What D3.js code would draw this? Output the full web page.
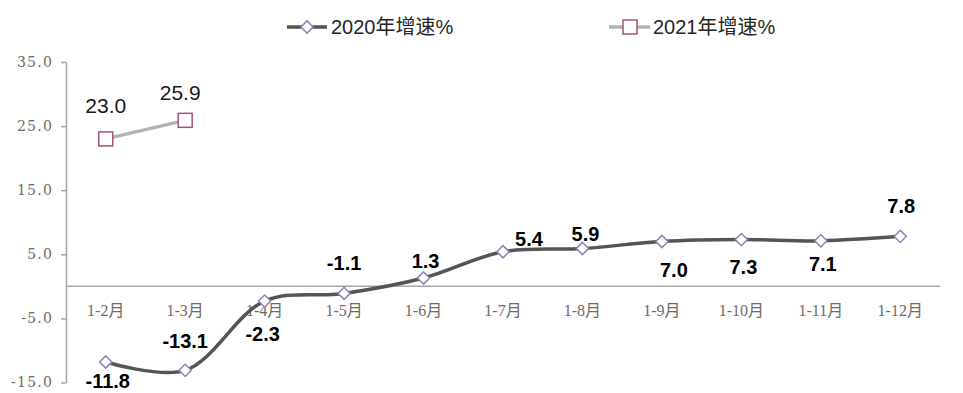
<!DOCTYPE html>
<html>
<head>
<meta charset="utf-8">
<script src="https://cdn.jsdelivr.net/npm/d3@7"></script>
<style>
  body { margin: 0; background: #fff; }
</style>
</head>
<body>
<div id="chart"></div>
<script>
// data
const months = ['1-2月', '1-3月', '1-4月', '1-5月', '1-6月', '1-7月', '1-8月', '1-9月', '1-10月', '1-11月', '1-12月'];
const growth2020 = [-11.8, -13.1, -2.3, -1.1, 1.3, 5.4, 5.9, 7.0, 7.3, 7.1, 7.8];
const growth2021 = [23.0, 25.9];
const yTicks = [35, 25, 15, 5, -5, -15];
const seriesNames = ['2020年增速%', '2021年增速%'];
// label nudges (dx, dy from the marker) as in the original
const labelDx2020 = [2, 0, -2, 0, 2, 26, 3, 12, 2, 2, 1];
const labelDy2020 = [26, -22, 40, -23, -10, -6, -8, 36, 34, 30, -23];
const labelDx2021 = [0, -5];
const labelDy2021 = [-26, -20];

const width = 963;
const height = 393;
const margin = { top: 62, right: 23, bottom: 10, left: 66 };

const fmt = v => d3.format('.1f')(v).replace('\u2212', '-');

const svg = d3.select('#chart')
  .append('svg')
  .attr('width', width)
  .attr('height', height)
  .attr('xmlns', 'http://www.w3.org/2000/svg');

const x = d3.scaleBand()
  .domain(months)
  .range([margin.left, width - margin.right]);

const y = d3.scaleLinear()
  .domain([-15, 35])
  .range([382.5, 62]);

const cx = d => x(d) + x.bandwidth() / 2;

// y axis
const yAxis = d3.axisLeft(y)
  .tickValues(yTicks)
  .tickFormat(fmt)
  .tickSizeInner(5)
  .tickSizeOuter(0)
  .tickPadding(8);

const yg = svg.append('g')
  .attr('class', 'y-axis-container')
  .attr('transform', `translate(${margin.left}, 0)`)
  .call(yAxis);
yg.select('.domain').attr('stroke', '#a6a6a6').attr('stroke-width', 1.5);
yg.selectAll('line').attr('stroke', '#a6a6a6').attr('stroke-width', 1.5);
yg.selectAll('text')
  .attr('font-family', '"DejaVu Serif", "Liberation Serif", serif')
  .attr('font-size', 14)
  .attr('letter-spacing', 1.2)
  .attr('fill', '#6e6a66');

// zero line
svg.append('line')
  .attr('x1', margin.left)
  .attr('x2', width - margin.right)
  .attr('y1', y(0))
  .attr('y2', y(0))
  .attr('stroke', '#a6a6a6')
  .attr('stroke-width', 1.5);

// x labels
svg.append('g')
  .attr('class', 'x-axis-container')
  .selectAll('text')
  .data(months)
  .join('text')
  .attr('x', d => cx(d))
  .attr('y', 316)
  .attr('text-anchor', 'middle')
  .attr('font-family', '"Liberation Serif", "Noto Sans CJK SC", serif')
  .attr('font-size', 16)
  .attr('fill', '#6e6a66')
  .text(d => d);

// 2021 line
const data2021 = growth2021.map((v, i) => ({ m: months[i], v, dx: labelDx2021[i], dy: labelDy2021[i] }));
svg.append('path')
  .datum(data2021)
  .attr('fill', 'none')
  .attr('stroke', '#b3b3b3')
  .attr('stroke-width', 3.5)
  .attr('d', d3.line().x(d => cx(d.m)).y(d => y(d.v)));

// 2020 line
const data2020 = growth2020.map((v, i) => ({ m: months[i], v, dx: labelDx2020[i], dy: labelDy2020[i] }));
svg.append('path')
  .datum(data2020)
  .attr('fill', 'none')
  .attr('stroke', '#555555')
  .attr('stroke-width', 3.5)
  .attr('d', d3.line().curve(d3.curveCatmullRom.alpha(0.5)).x(d => cx(d.m)).y(d => y(d.v)));

// markers
const diamond = d3.symbol().type(d3.symbolDiamond2).size(95);
svg.append('g')
  .selectAll('path')
  .data(data2020)
  .join('path')
  .attr('transform', d => `translate(${cx(d.m)}, ${y(d.v)})`)
  .attr('d', diamond)
  .attr('fill', '#fff')
  .attr('stroke', '#8a84b6')
  .attr('stroke-width', 1.5);

svg.append('g')
  .selectAll('rect')
  .data(data2021)
  .join('rect')
  .attr('x', d => cx(d.m) - 7)
  .attr('y', d => y(d.v) - 7)
  .attr('width', 14)
  .attr('height', 14)
  .attr('fill', '#fff')
  .attr('stroke', '#a4507e')
  .attr('stroke-width', 1.5);

// data labels
svg.append('g')
  .selectAll('text')
  .data(data2020)
  .join('text')
  .attr('x', d => cx(d.m) + d.dx)
  .attr('y', d => y(d.v) + d.dy)
  .attr('text-anchor', 'middle')
  .attr('font-family', '"Liberation Sans", Arial, sans-serif')
  .attr('font-weight', 700)
  .attr('font-size', 20)
  .attr('fill', '#000')
  .text(d => fmt(d.v));

svg.append('g')
  .selectAll('text')
  .data(data2021)
  .join('text')
  .attr('x', d => cx(d.m) + d.dx)
  .attr('y', d => y(d.v) + d.dy)
  .attr('text-anchor', 'middle')
  .attr('font-family', '"Liberation Sans", Arial, sans-serif')
  .attr('font-size', 21)
  .attr('fill', '#1a1a1a')
  .text(d => fmt(d.v));

// legend
const legend = svg.append('g').attr('class', 'legend');
const lg1 = legend.append('g').attr('transform', 'translate(287, 27)');
lg1.append('line').attr('x1', 0).attr('x2', 40).attr('stroke', '#555555').attr('stroke-width', 3.5);
lg1.append('path').attr('transform', 'translate(20, 0)').attr('d', diamond)
  .attr('fill', '#fff').attr('stroke', '#8a84b6').attr('stroke-width', 1.5);
lg1.append('text').attr('x', 44).attr('y', 7)
  .attr('font-family', '"Liberation Sans", "Noto Sans CJK SC", sans-serif')
  .attr('font-size', 20).attr('fill', '#262626').text(seriesNames[0]);

const lg2 = legend.append('g').attr('transform', 'translate(609, 27)');
lg2.append('line').attr('x1', 0).attr('x2', 41).attr('stroke', '#b3b3b3').attr('stroke-width', 3.5);
lg2.append('rect').attr('x', 14).attr('y', -7).attr('width', 14).attr('height', 14)
  .attr('fill', '#fff').attr('stroke', '#a4507e').attr('stroke-width', 1.5);
lg2.append('text').attr('x', 44).attr('y', 7)
  .attr('font-family', '"Liberation Sans", "Noto Sans CJK SC", sans-serif')
  .attr('font-size', 20).attr('fill', '#262626').text(seriesNames[1]);
</script>
</body>
</html>
